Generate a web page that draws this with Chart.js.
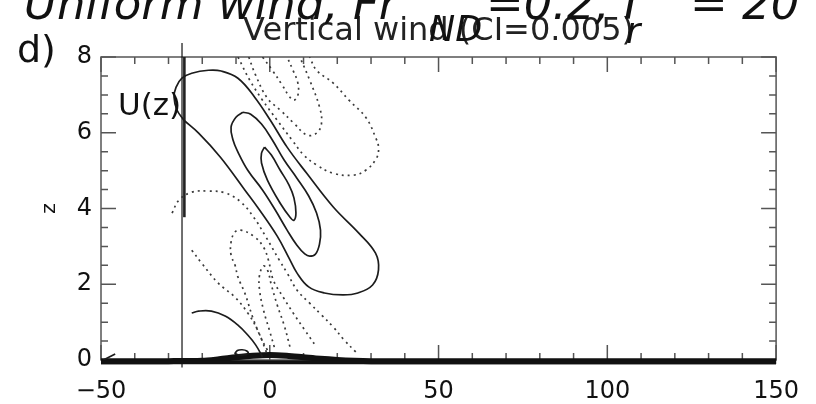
<!DOCTYPE html>
<html>
<head>
<meta charset="utf-8">
<script src="https://cdn.jsdelivr.net/npm/chart.js@4.4.1/dist/chart.umd.min.js"></script>
<style>
  body { margin: 0; background: #fff; }
  #wrap { position: relative; width: 816px; height: 404px; overflow: hidden; }
  canvas { position: absolute; left: 0; top: 0; }
  .lbl { position: absolute; font-family: 'DejaVu Sans', sans-serif; line-height: 1; white-space: nowrap; color: #111; }
  .it { font-style: italic; }
</style>
</head>
<body>
<div id="wrap">
  <canvas id="c" width="816" height="404"></canvas>
  <div class="lbl it" style="left:24px; top:-19px; font-size:45px">Uniform wind, Fr</div>
  <div class="lbl it" style="left:429px; top:12px; font-size:35px">ND</div>
  <div class="lbl it" style="left:486px; top:-19px; font-size:45px">=0.2, Γ</div>
  <div class="lbl it" style="left:626px; top:14px; font-size:35px">r</div>
  <div class="lbl it" style="left:690px; top:-19px; font-size:45px">= 20</div>
  <div class="lbl" style="left:17px; top:30px; font-size:38px">d)</div>
  <div class="lbl" style="left:118px; top:89px; font-size:31px">U(z)</div>
</div>
<script>
// 垂直風速等值線（x: 水平距離, z: 高度）

const xTickValues = [-50, 0, 50, 100, 150];
const zTickValues = [0, 2, 4, 6, 8];

// 正值等值線（實線）
const posOuter = [[-25.45,6.33],[-21.08,5.99],[-14.68,5.36],[-7.40,4.49],[-3.03,3.96],[2.21,3.27],[5.71,2.69],[8.04,2.30],[11.53,1.93],[16.19,1.77],[21.72,1.72],[26.09,1.77],[30.46,1.98],[32.21,2.38],[31.33,2.82],[26.38,3.35],[18.81,4.04],[10.95,4.93],[5.13,5.62],[0.17,6.33],[-4.48,6.94],[-9.43,7.44],[-14.38,7.63],[-18.17,7.65],[-23.12,7.57],[-26.03,7.44],[-27.78,7.20],[-28.36,6.94],[-27.49,6.60],[-25.45,6.33]];
const posMiddle = [[-7.98,6.54],[-10.02,6.41],[-11.47,6.15],[-10.89,5.81],[-9.43,5.49],[-6.52,5.01],[-2.16,4.49],[1.63,3.96],[5.13,3.43],[8.04,3.03],[10.37,2.80],[11.82,2.74],[13.57,2.80],[14.73,3.06],[15.03,3.43],[13.86,3.88],[11.53,4.33],[8.04,4.80],[4.25,5.28],[0.76,5.81],[-2.45,6.23],[-5.65,6.49],[-7.98,6.54]];
const posInner = [[-1.57,5.62],[-2.45,5.46],[-2.45,5.20],[-0.70,4.75],[3.09,4.14],[6.00,3.77],[7.16,3.69],[7.75,3.88],[7.16,4.28],[5.71,4.62],[3.09,5.01],[0.47,5.41],[-1.57,5.62]];
const posLow = [[-23.12,1.24],[-21.08,1.29],[-17.30,1.29],[-13.22,1.16],[-9.43,0.92],[-6.52,0.66],[-4.19,0.40],[-2.15,0.08]];
const posSmall = [[-10.4,0.16],[-9.6,0.25],[-8.2,0.27],[-6.8,0.24],[-6.4,0.17],[-8.2,0.13],[-10.4,0.16]];
const posCorner = [[-49.3,0.0],[-45.8,0.16]];

// 負值等值線（虛線）
const negTopOuter = [[-9.43,8.00],[-5.94,7.39],[-2.15,6.86],[2.21,6.33],[6.58,5.81],[10.08,5.41],[13.86,5.15],[18.81,4.93],[24.64,4.88],[28.42,5.01],[31.62,5.33],[32.21,5.62],[31.33,5.88],[28.42,6.41],[23.47,6.86],[18.81,7.31],[13.86,7.65],[11.82,8.00]];
const negTopMiddle = [[-6.23,8.00],[-4.19,7.52],[-0.70,6.91],[3.09,6.60],[7.16,6.25],[10.95,5.94],[13.86,5.99],[15.32,6.25],[14.73,6.68],[11.82,7.39],[8.91,8.00]];
const negTopInner = [[-2.15,8.00],[0.76,7.65],[3.67,7.26],[5.71,6.97],[7.16,6.86],[8.33,6.99],[8.33,7.31],[6.87,7.65],[5.13,8.00]];
const negLowOuter = [[-28.95,3.88],[-26.91,4.22],[-23.12,4.43],[-18.17,4.46],[-13.22,4.41],[-8.56,4.17],[-4.78,3.77],[-1.28,3.27],[2.80,2.64],[5.13,2.30],[8.04,1.85],[11.82,1.50],[15.32,1.19],[18.81,0.87],[22.01,0.53],[25.51,0.21]];
const negLowMiddle = [[-0.70,0.26],[-2.74,0.61],[-5.07,1.13],[-7.40,1.77],[-9.43,2.19],[-10.31,2.51],[-11.47,2.77],[-11.47,3.11],[-10.31,3.38],[-8.56,3.43],[-4.48,3.25],[-1.86,2.98],[-0.41,2.64],[1.05,2.11],[3.96,1.66],[7.16,1.21],[10.37,0.79],[13.86,0.34]];
const negLowInner = [[1.34,0.34],[-0.12,0.79],[-1.86,1.32],[-3.03,1.85],[-3.03,2.24],[-1.86,2.48],[-0.70,2.38],[0.47,1.98],[2.21,1.45],[4.25,0.92],[6.00,0.34]];
const negLowLeft = [[-23.12,2.90],[-20.21,2.56],[-15.26,2.03],[-10.31,1.66],[-6.52,1.24],[-3.61,0.79],[-1.57,0.34],[-0.70,0.13]];

// 地形與風速剖面
const terrainX = [-50, -30, -20, -15, -10, -5, 0, 5, 10, 15, 20, 25, 30, 40, 150];
const terrainZ = [-0.03, -0.03, -0.02, 0.02, 0.07, 0.11, 0.13, 0.11, 0.07, 0.03, 0.0, -0.02, -0.03, -0.03, -0.03];
const groundBase = [[-50, -0.06], [150, -0.06]];
const uAxisLine = [[-26.0, 8.37], [-26.0, -0.2]];
const uProfile = [[-25.3, 8.0], [-25.3, 3.77]];

const FONT = 'DejaVu Sans';

function contour(pts, dotted) {
  return {
    data: pts.map(p => ({ x: p[0], y: p[1] })),
    showLine: true,
    pointRadius: 0,
    borderColor: dotted ? '#3a3a3a' : '#1c1c1c',
    borderWidth: 1.7,
    borderDash: dotted ? [2, 4] : [],
    tension: 0.4,
    fill: false
  };
}

function plainLine(pts, width, color) {
  return {
    data: pts.map(p => ({ x: p[0], y: p[1] })),
    showLine: true, pointRadius: 0, borderColor: color, borderWidth: width,
    tension: 0.3, fill: false, clip: false
  };
}

const datasets = [
  contour(posOuter), contour(posMiddle), contour(posInner), contour(posLow),
  contour(posSmall), contour(posCorner),
  contour(negTopOuter, true), contour(negTopMiddle, true), contour(negTopInner, true),
  contour(negLowOuter, true), contour(negLowMiddle, true), contour(negLowInner, true),
  contour(negLowLeft, true),
  plainLine(groundBase, 4, '#111'),
  plainLine(terrainX.map((x, i) => [x, terrainZ[i]]), 6, '#111'),
  plainLine(uAxisLine, 1.2, '#111'),
  plainLine(uProfile, 2.6, '#222')
];

// 四邊向內刻度
const boxTicks = {
  id: 'boxTicks',
  beforeDatasetsDraw(chart) {
    const { ctx, chartArea: a, scales: { x, y } } = chart;
    ctx.save();
    ctx.strokeStyle = '#555';
    ctx.lineWidth = 1.5;
    ctx.strokeRect(a.left, a.top, a.right - a.left, a.bottom - a.top);
    ctx.beginPath();
    for (let v = -50; v <= 150; v += 10) {
      const px = x.getPixelForValue(v);
      const len = v % 50 === 0 ? 15 : 7;
      ctx.moveTo(px, a.bottom); ctx.lineTo(px, a.bottom - len);
      ctx.moveTo(px, a.top); ctx.lineTo(px, a.top + len);
    }
    for (let v = 0; v <= 8; v += 0.5) {
      const py = y.getPixelForValue(v);
      const len = v % 2 === 0 ? 15 : 7;
      ctx.moveTo(a.left, py); ctx.lineTo(a.left + len, py);
      ctx.moveTo(a.right, py); ctx.lineTo(a.right - len, py);
    }
    ctx.stroke();
    ctx.restore();
  }
};

new Chart(document.getElementById('c'), {
  type: 'scatter',
  data: { datasets },
  options: {
    responsive: false,
    animation: false,
    devicePixelRatio: 1,
    layout: { padding: { top: 0, right: 28.5, bottom: 0, left: 0 } },
    plugins: {
      legend: { display: false },
      tooltip: { enabled: false },
      title: {
        display: true,
        text: 'Vertical wind (CI=0.005)',
        fullSize: false,
        color: '#222',
        font: { family: FONT, size: 32, weight: 'normal' },
        padding: { top: 12, bottom: 6.6 }
      }
    },
    scales: {
      x: {
        type: 'linear', min: -50, max: 150,
        grid: { display: false, drawTicks: false },
        border: { display: false },
        afterBuildTicks: s => { s.ticks = xTickValues.map(v => ({ value: v })); },
        afterFit: s => { s.height = 44; },
        ticks: {
          padding: 17, color: '#111', maxRotation: 0, autoSkip: false,
          font: { family: FONT, size: 24 },
          callback: v => String(v).replace('-', '\u2212')
        }
      },
      y: {
        type: 'linear', min: 0, max: 8,
        grid: { display: false, drawTicks: false },
        border: { display: false },
        afterBuildTicks: s => { s.ticks = zTickValues.map(v => ({ value: v })); },
        afterFit: s => { s.width = 101; },
        ticks: { padding: 9, color: '#111', font: { family: FONT, size: 24 } },
        title: {
          display: true, text: 'z', color: '#111',
          font: { family: FONT, size: 20 },
          padding: { top: 38, bottom: 0 }
        }
      }
    }
  },
  plugins: [boxTicks]
});
</script>
</body>
</html>
